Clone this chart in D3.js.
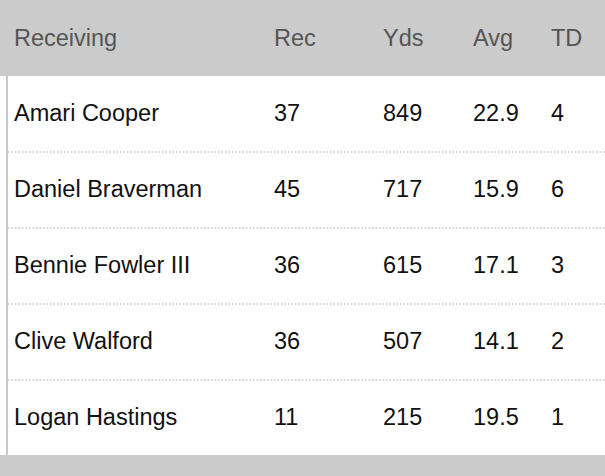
<!DOCTYPE html>
<html><head><meta charset="utf-8">
<script src="https://cdn.jsdelivr.net/npm/d3@7"></script>
<style>body{margin:0;background:#fff}</style>
</head><body>
<script>
// Table data
var headers = ["Receiving", "Rec", "Yds", "Avg", "TD"];
var players = ["Amari Cooper", "Daniel Braverman", "Bennie Fowler III", "Clive Walford", "Logan Hastings"];
var rec = [37, 45, 36, 36, 11];
var yds = [849, 717, 615, 507, 215];
var avg = ["22.9", "15.9", "17.1", "14.1", "19.5"];
var td = [4, 6, 3, 2, 1];

var width = 605, height = 476;
var svg = d3.select("body").append("svg").attr("width", width).attr("height", height);

var colX = d3.scaleOrdinal().domain(headers).range([14, 274, 383, 473, 551]);
var rowY = d3.scaleLinear().domain([0, 1]).range([115, 191]);

svg.append("rect").attr("width", width).attr("height", 76).attr("fill", "#cbcbcb");
svg.append("rect").attr("y", 455).attr("width", width).attr("height", 21).attr("fill", "#cbcbcb");
svg.append("line").attr("x1", 7).attr("x2", 7).attr("y1", 76).attr("y2", 455)
    .attr("stroke", "#c8c8c8").attr("stroke-width", 2);

svg.selectAll(".hdr").data(headers).enter().append("text")
    .attr("x", function(d){ return colX(d); }).attr("y", 40)
    .attr("dominant-baseline", "middle")
    .attr("font-family", "Liberation Sans, Arial, sans-serif").attr("font-size", 23.5)
    .attr("fill", "#555").text(function(d){ return d; });

var rows = players.map(function(p, i){ return [p, rec[i], yds[i], avg[i], td[i]]; });

// dotted separators
svg.selectAll(".sep").data(d3.range(1, players.length)).enter().append("line")
    .attr("x1", 8).attr("x2", width)
    .attr("y1", function(d){ return rowY(d) - 39; }).attr("y2", function(d){ return rowY(d) - 39; })
    .attr("stroke", "#c4c4c4").attr("stroke-width", 1.5).attr("stroke-dasharray", "1.5,2");

var g = svg.selectAll(".row").data(rows).enter().append("g")
    .attr("transform", function(d, i){ return "translate(0," + rowY(i) + ")"; });
g.selectAll("text").data(function(d){ return d; }).enter().append("text")
    .attr("x", function(d, j){ return colX(headers[j]); })
    .attr("dominant-baseline", "middle")
    .attr("font-family", "Liberation Sans, Arial, sans-serif").attr("font-size", 23.5)
    .attr("fill", "#111").text(function(d){ return d; });
</script>
</body></html>
